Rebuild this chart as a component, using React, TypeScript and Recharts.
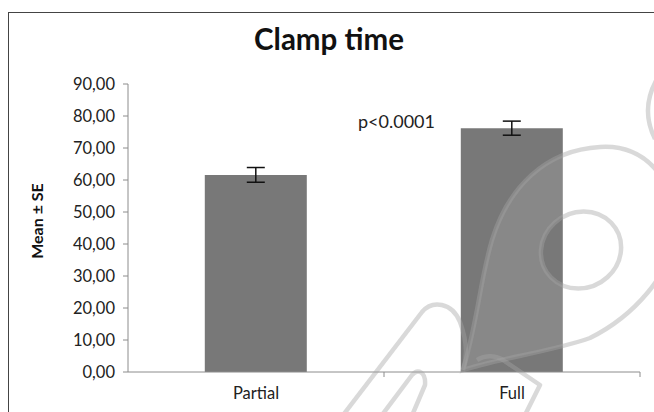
import { BarChart, Bar, XAxis, YAxis, ErrorBar, Customized } from "recharts";

const groups = ["Partial", "Full"];
const means = [61.6, 76.2];
const errors = [2.3, 2.2];
const yTicks = [0, 10, 20, 30, 40, 50, 60, 70, 80, 90];
const pLabel = "p<0.0001";
const yTitle = "Mean ± SE";

const data = groups.map((g, i) => ({ group: g, mean: means[i], se: errors[i] }));

const font = "Lato, 'Open Sans', sans-serif";
const axisGray = "#8c8c8c";

const fmt = (v: number) => v.toFixed(2).replace(".", ",");

function CatTick(props: any) {
  const { x, y, payload } = props;
  const half = (640 - 128) / groups.length / 2;
  return (
    <g>
      <line x1={x + half} x2={x + half} y1={y - 8} y2={y - 3} stroke={axisGray} />
      <text x={x} y={y + 19} textAnchor="middle" fill="#222" fontSize={16.5} fontFamily={font}>
        {payload.value}
      </text>
    </g>
  );
}

function YTitle(props: any) {
  const vb = props.viewBox || { x: 0, y: 84, height: 288 };
  const cx = vb.x + 36;
  const cy = vb.y + vb.height / 2 - 7;
  return (
    <text x={cx} y={cy} transform={`rotate(-90 ${cx} ${cy})`} textAnchor="middle" dominantBaseline="central" fill="#111" fontWeight={700} fontSize={16} fontFamily={font}>
      {yTitle}
    </text>
  );
}

function PText() {
  return (
    <text x={358} y={128} fill="#222" fontSize={18} fontFamily={font}>
      {pLabel}
    </text>
  );
}

// faint publisher watermark drawn over the figure
function Watermark() {
  const s = { stroke: "#a4a4a4", strokeOpacity: 0.42, strokeWidth: 4.5, fill: "none", strokeLinejoin: "round" as const };
  return (
    <svg width={654} height={412} style={{ position: "absolute", left: 0, top: 0, pointerEvents: "none" }}>
      <path
        d="M 463 370 C 478 320, 480 280, 492 240 C 508 188, 545 150, 600 147 C 645 144, 675 180, 675 225 C 675 275, 630 318, 590 338 C 550 352, 500 358, 463 370 Z M 541 250 A 40 37 -30 1 0 621 250 A 40 37 -30 1 0 541 250 Z"
        fill="#fff"
        fillOpacity={0.12}
        fillRule="evenodd"
        stroke="#a4a4a4"
        strokeOpacity={0.42}
        strokeWidth={4.5}
      />
      <path d="M 337 423 L 422 312 C 432 300, 452 302, 460 322 C 466 338, 468 355, 463 370" {...s} />
      <path d="M 373 427 L 412 375 C 418 368, 426 372, 425 385 L 408 425" {...s} />
      <path d="M 477 360 C 485 355, 495 355, 503 360 L 540 385 L 525 415" {...s} />
      <path d="M 657 79 Q 640 109 655 139" {...s} />
    </svg>
  );
}

export default function App() {
  return (
    <div style={{ position: "absolute", left: 0, top: 0, width: 654, height: 412, background: "#fff", overflow: "hidden" }}>
      <div style={{ position: "absolute", left: 8, top: 12, width: 700, height: 460, border: "1.5px solid #444" }} />
      <div style={{ position: "absolute", left: 0, top: 21, width: 658, textAlign: "center", fontFamily: font, fontWeight: 700, fontSize: 29.5, color: "#111" }}>
        Clamp time
      </div>
      <div style={{ position: "absolute", left: 0, top: 0 }}>
        <BarChart width={654} height={412} data={data} margin={{ top: 84, right: 14, bottom: 10, left: 0 }} barCategoryGap="30%">
          <YAxis
            width={128}
            domain={[0, 90]}
            ticks={yTicks}
            tickFormatter={fmt}
            axisLine={{ stroke: axisGray }}
            tickLine={{ stroke: axisGray }}
            tickSize={5}
            tick={{ fill: "#222", fontSize: 16.5, fontFamily: font, dx: -6 }}
            label={<YTitle />}
          />
          <XAxis dataKey="group" height={30} axisLine={{ stroke: axisGray }} tickLine={false} tick={<CatTick />} interval={0} />
          <Bar dataKey="mean" fill="#787878" isAnimationActive={false}>
            <ErrorBar dataKey="se" width={9} stroke="#111" strokeWidth={1.5} />
          </Bar>
          <Customized component={PText} />
        </BarChart>
      </div>
      <Watermark />
    </div>
  );
}
